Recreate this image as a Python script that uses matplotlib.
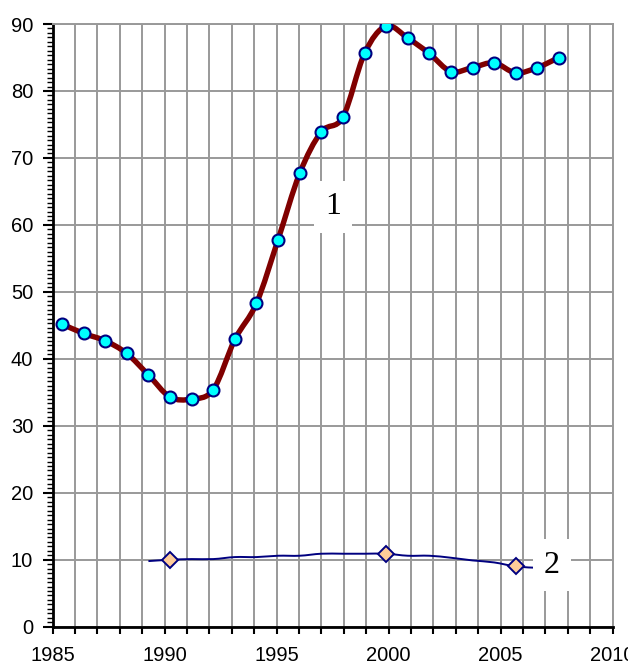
import matplotlib
matplotlib.use("Agg")
import matplotlib.pyplot as plt
from matplotlib.path import Path
from matplotlib.patches import PathPatch
from matplotlib.ticker import MultipleLocator, AutoMinorLocator, FuncFormatter
import numpy as np

# serie 1 (curva roja con circulos)
anios1 = list(range(1985, 2009))
valores1 = [45.2, 43.8, 42.7, 40.8, 37.6, 34.3, 34.0, 35.4, 42.9, 48.3, 57.8, 67.7,
            73.9, 76.1, 85.6, 89.7, 87.9, 85.6, 82.9, 83.5, 84.2, 82.7, 83.5, 85.0]

# serie 2 (linea azul, marcadores solo en algunos anios)
anios2 = list(range(1989, 2008))
valores2 = [9.8, 10.0, 10.1, 10.1, 10.4, 10.4, 10.6, 10.6, 10.9, 10.9, 10.9, 10.9,
            10.6, 10.6, 10.3, 9.9, 9.6, 9.0, 8.8]
anios2_marca = [1990, 2000, 2006]
valores2_marca = [10.0, 10.9, 9.0]

etiquetas = ["1", "2"]

plt.rcParams['font.family'] = ['Liberation Sans', 'DejaVu Sans']


def curva_suave(x, y):
    # curva tipo "linea suavizada" de Excel con segmentos Bezier
    p = np.column_stack([x, y]).astype(float)
    n = len(p)
    verts = [p[0]]
    codes = [Path.MOVETO]
    for i in range(n - 1):
        a = p[i - 1] if i > 0 else p[i]
        d = p[i + 2] if i + 2 < n else p[i + 1]
        c1 = p[i] + (p[i + 1] - a) / 6.0
        c2 = p[i + 1] - (d - p[i]) / 6.0
        verts += [c1, c2, p[i + 1]]
        codes += [Path.CURVE4] * 3
    return Path(verts, codes)


fig = plt.figure(figsize=(6.28, 6.69), dpi=100)
ax = fig.add_axes([0.0839, 0.0632, 0.8917, 0.9009])

gris = '#999999'
ax.set_xlim(1985, 2010)
ax.set_ylim(0, 90)
ax.xaxis.set_major_locator(MultipleLocator(1))
ax.xaxis.set_major_formatter(FuncFormatter(lambda v, p: "%d" % v if int(round(v)) % 5 == 0 else ""))
ax.yaxis.set_major_locator(MultipleLocator(10))
ax.yaxis.set_minor_locator(AutoMinorLocator(15))
ax.grid(True, which='major', color=gris, linewidth=1.4)
ax.set_axisbelow(True)

for s in ['left', 'bottom']:
    ax.spines[s].set_color('black')
    ax.spines[s].set_linewidth(2.0)
for s in ['top', 'right']:
    ax.spines[s].set_color(gris)
    ax.spines[s].set_linewidth(1.4)

ax.tick_params(axis='x', which='major', length=5, width=1.5, direction='out', labelsize=14.5, pad=9)
ax.tick_params(axis='y', which='major', length=7, width=1.5, direction='out', labelsize=14.5, pad=7)
ax.tick_params(axis='y', which='minor', length=4, width=1.0, direction='out')

# eje auxiliar para las series (la escala de los puntos no coincide con la rejilla)
ax2 = ax.twiny()
ax2.set_xlim(1984.570, 2010.485)
ax2.set_ylim(0, 90)
ax2.set_axis_off()

ax2.add_patch(PathPatch(curva_suave(anios1, valores1), facecolor='none',
                        edgecolor='#800000', linewidth=3.9, capstyle='round', zorder=3))
ax2.plot(anios1, valores1, linestyle='none', marker='o', markersize=8.6,
         markerfacecolor='#00FFFF', markeredgecolor='#000080', markeredgewidth=1.5, zorder=4)

ax2.add_patch(PathPatch(curva_suave(anios2, valores2), facecolor='none',
                        edgecolor='#000080', linewidth=1.4, zorder=3))
ax2.plot(anios2_marca, valores2_marca, linestyle='none', marker='D', markersize=8.5,
         markerfacecolor='#FFCC99', markeredgecolor='#000080', markeredgewidth=1.4, zorder=4)

ax2.text(1997.55, 62.7, etiquetas[0], fontsize=23, family=['Liberation Serif', 'DejaVu Serif'],
         ha='center', va='center', zorder=5,
         bbox=dict(boxstyle='square,pad=0.35', facecolor='white', edgecolor='none'))
ax2.text(2007.67, 9.2, etiquetas[1], fontsize=23, family=['Liberation Serif', 'DejaVu Serif'],
         ha='center', va='center', zorder=5,
         bbox=dict(boxstyle='square,pad=0.35', facecolor='white', edgecolor='none'))

fig.savefig('out.png', dpi=100)
